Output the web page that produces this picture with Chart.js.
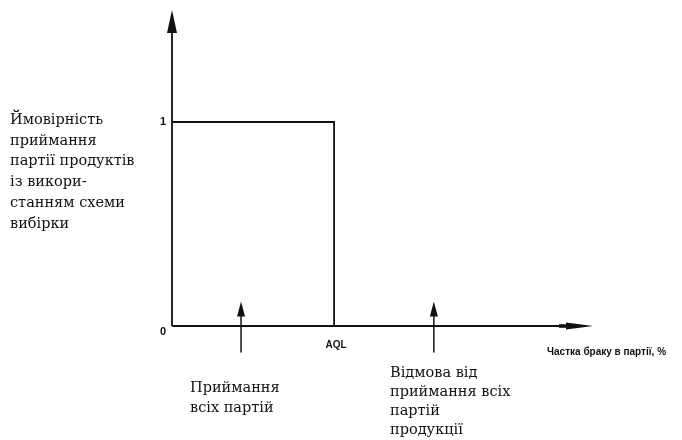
<!DOCTYPE html>
<html lang="uk">
<head>
<meta charset="utf-8">
<script src="https://cdn.jsdelivr.net/npm/chart.js@4.4.0/dist/chart.umd.min.js"></script>
<style>
  html, body { margin: 0; padding: 0; background: #fff; }
  #wrap { width: 682px; height: 440px; }
</style>
</head>
<body>
<div id="wrap"><canvas id="oc" width="682" height="440"></canvas></div>
<script>
// ідеальна оперативна характеристика плану вибірки
const defectShare = [0, 3.85, 3.85];
const acceptProb = [1, 1, 0];
const aqlValue = 3.85;
const yTicks = [0, 1];
const arrowMarks = [1.64, 6.22];
const yTitle = ['Ймовірність', 'приймання', 'партії продуктів', 'із викори-', 'станням схеми', 'вибірки'];
const xTitle = 'Частка браку в партії, %';
const acceptLabel = ['Приймання', 'всіх партій'];
const rejectLabel = ['Відмова від', 'приймання всіх', 'партій', 'продукції'];

const INK = '#111';
const SERIF = '"DejaVu Serif", "Liberation Serif", serif';
const SANS = '"Liberation Sans Narrow", "Liberation Sans", Arial, sans-serif';

function arrowHead(ctx, x, y, dir, len, half) {
  ctx.beginPath();
  if (dir === 'up') {
    ctx.moveTo(x, y);
    ctx.lineTo(x - half, y + len);
    ctx.lineTo(x + half, y + len);
  } else {
    ctx.moveTo(x, y);
    ctx.lineTo(x - len, y - half);
    ctx.lineTo(x - len, y + half);
  }
  ctx.closePath();
  ctx.fill();
}

const schemePlugin = {
  id: 'scheme',
  afterDraw(chart) {
    const { ctx, chartArea, scales } = chart;
    const xs = scales.x, ys = scales.y;
    const x0 = xs.getPixelForValue(0);
    const y0 = ys.getPixelForValue(0);
    ctx.save();
    ctx.strokeStyle = INK;
    ctx.fillStyle = INK;
    ctx.lineWidth = 1.8;

    // осі
    ctx.beginPath();
    ctx.moveTo(x0, y0);
    ctx.lineTo(x0, chartArea.top + 12);
    ctx.moveTo(x0, y0);
    ctx.lineTo(chartArea.right - 14, y0);
    ctx.stroke();
    arrowHead(ctx, x0, chartArea.top, 'up', 23, 5);
    arrowHead(ctx, chartArea.right, y0, 'right', 27, 3.5);
    ctx.fillRect(chartArea.right - 34, y0 - 1.8, 10, 3.6);

    // стрілки зон приймання та відмови
    ctx.lineWidth = 1.5;
    arrowMarks.forEach(v => {
      const px = xs.getPixelForValue(v);
      const top = ys.getPixelForValue(0.12);
      const bottom = ys.getPixelForValue(-0.13);
      ctx.beginPath();
      ctx.moveTo(px, top + 10);
      ctx.lineTo(px, bottom);
      ctx.stroke();
      arrowHead(ctx, px, top, 'up', 15, 4);
    });

    // підписи шкал
    ctx.font = 'bold 11px ' + SANS;
    ctx.textAlign = 'center';
    ctx.textBaseline = 'middle';
    yTicks.forEach(t => {
      ctx.fillText(String(t), x0 - 9, ys.getPixelForValue(t) + (t === 0 ? 6 : 0));
    });
    ctx.font = 'bold 10px ' + SANS;
    ctx.fillText('AQL', xs.getPixelForValue(aqlValue) + 2, y0 + 19);

    ctx.textAlign = 'left';
    ctx.font = 'bold 10px ' + SANS;
    ctx.fillText(xTitle, 547, y0 + 26, 131);

    // пояснювальні написи
    ctx.font = '14.5px ' + SERIF;
    ctx.textBaseline = 'middle';
    yTitle.forEach((s, i) => ctx.fillText(s, 10, 120 + i * 20.8));
    acceptLabel.forEach((s, i) => ctx.fillText(s, 190, 388 + i * 20));
    rejectLabel.forEach((s, i) => ctx.fillText(s, 390, 373 + i * 19));
    ctx.restore();
  }
};

new Chart(document.getElementById('oc'), {
  type: 'line',
  data: {
    datasets: [{
      data: defectShare.map((x, i) => ({ x: x, y: acceptProb[i] })),
      borderColor: INK,
      borderWidth: 1.8,
      pointRadius: 0,
      tension: 0,
      fill: false,
      clip: false
    }]
  },
  options: {
    responsive: false,
    animation: false,
    events: [],
    layout: { padding: { left: 172, right: 89, top: 10, bottom: 114 } },
    plugins: { legend: { display: false }, tooltip: { enabled: false } },
    scales: {
      x: { type: 'linear', min: 0, max: 10, display: false },
      y: { type: 'linear', min: 0, max: 1.549, display: false }
    }
  },
  plugins: [schemePlugin]
});
</script>
</body>
</html>
